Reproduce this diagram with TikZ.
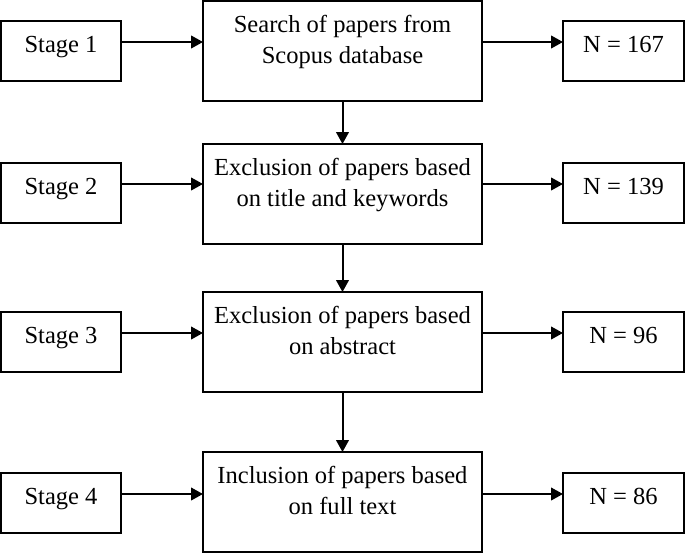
\documentclass[tikz,border=0pt]{standalone}
\usepackage{fontspec}
\setmainfont{Liberation Serif}
\usetikzlibrary{arrows.meta}
\tikzset{
  stagebox/.style={draw, line width=1.5pt, inner sep=0pt, outer sep=0pt,
    minimum width=90pt, text height=23.25pt, text depth=21.75pt,
    font=\fontsize{18.4}{23.3}\selectfont},
  countbox/.style={stagebox, minimum width=90.75pt},
  mainbox/.style={stagebox, minimum width=209.25pt, text depth=51.75pt},
  arr/.style={-{Triangle[length=9pt,width=9.5pt]}, line width=1.5pt},
}
\newcommand{\twolines}[2]{\parbox[t]{200pt}{\centering #1\\#2}}

\begin{document}
\begin{tikzpicture}[x=0.75pt,y=-0.75pt]
            \useasboundingbox (0,0) rectangle (685,554);
            % stage 1
            \node[stagebox, anchor=north west] (s1) at (1,21) {Stage 1};
            \node[mainbox, anchor=north west] (c1) at (203,1) {\twolines{Search of papers from}{Scopus database}};
            \node[countbox, anchor=north east] (n1) at (684,21) {N = 167};
            % stage 2
            \node[stagebox, anchor=north west] (s2) at (1,163) {Stage 2};
            \node[mainbox, anchor=north west] (c2) at (203,144) {\twolines{Exclusion of papers based}{on title and keywords}};
            \node[countbox, anchor=north east] (n2) at (684,163) {N = 139};
            % stage 3
            \node[stagebox, anchor=north west] (s3) at (1,312) {Stage 3};
            \node[mainbox, anchor=north west] (c3) at (203,292) {\twolines{Exclusion of papers based}{on abstract}};
            \node[countbox, anchor=north east] (n3) at (684,312) {N = 96};
            % stage 4
            \node[stagebox, anchor=north west] (s4) at (1,473) {Stage 4};
            \node[mainbox, anchor=north west] (c4) at (203,452) {\twolines{Inclusion of papers based}{on full text}};
            \node[countbox, anchor=north east] (n4) at (684,473) {N = 86};
            % arrow heights
            \coordinate (a1) at ([yshift=7.5pt]s1.base east);
            \coordinate (a2) at ([yshift=7.5pt]s2.base east);
            \coordinate (a3) at ([yshift=7.5pt]s3.base east);
            \coordinate (a4) at ([yshift=7.5pt]s4.base east);
            \draw[arr] (a1) -- (a1 -| c1.west);
            \draw[arr] (a1 -| c1.east) -- (a1 -| n1.west);
            \draw[arr] (a2) -- (a2 -| c2.west);
            \draw[arr] (a2 -| c2.east) -- (a2 -| n2.west);
            \draw[arr] (a3) -- (a3 -| c3.west);
            \draw[arr] (a3 -| c3.east) -- (a3 -| n3.west);
            \draw[arr] (a4) -- (a4 -| c4.west);
            \draw[arr] (a4 -| c4.east) -- (a4 -| n4.west);
            \draw[arr] (c1.south) -- (c2.north);
            \draw[arr] (c2.south) -- (c3.north);
            \draw[arr] (c3.south) -- (c4.north);
        \end{tikzpicture}
\end{document}
